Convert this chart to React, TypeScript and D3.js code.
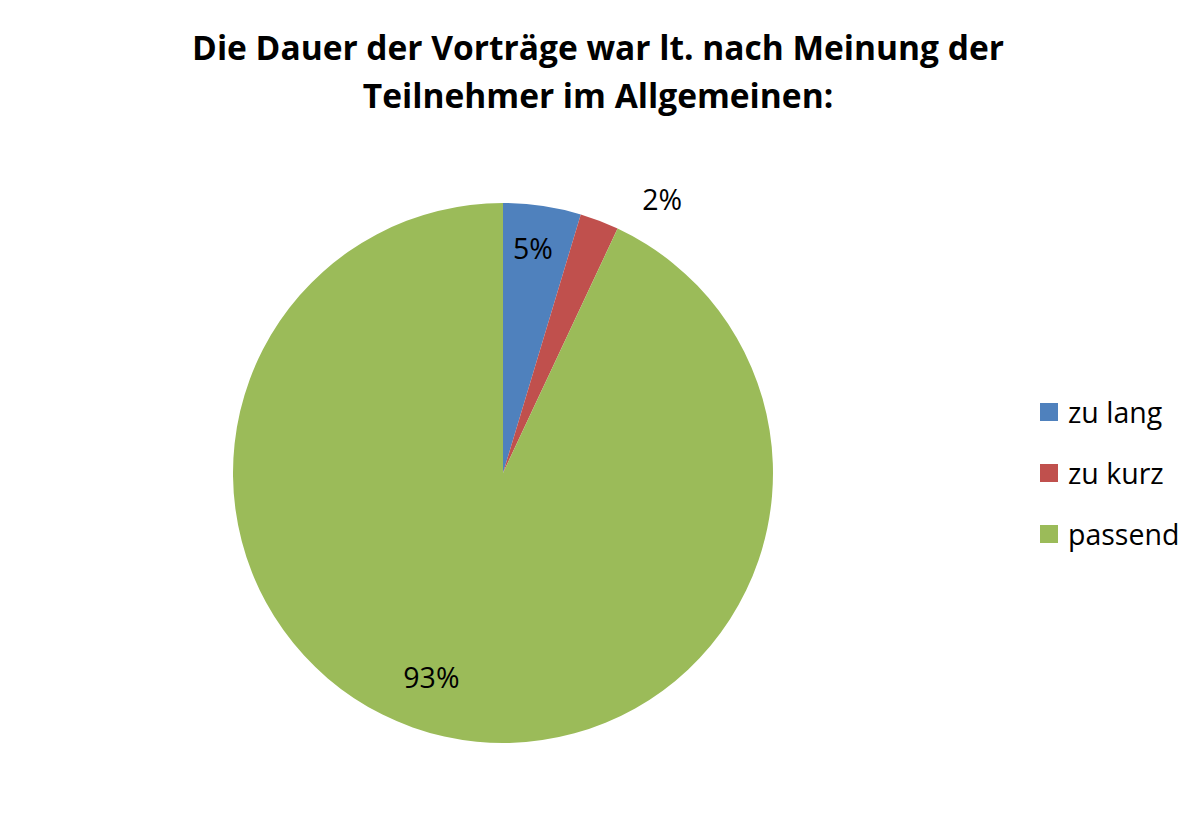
import * as d3 from 'd3';

const categories = ['zu lang', 'zu kurz', 'passend'];
const counts = [2, 1, 40];
const colors = ['#4F81BD', '#C0504D', '#9BBB59'];
const titleLines = ['Die Dauer der Vorträge war lt. nach Meinung der', 'Teilnehmer im Allgemeinen:'];

// label placement: radius factor and angular nudge (deg) per slice, like Excel's best fit
const labelPlace = [
  { r: 0.84, da: -0.8 },
  { r: 1.174, da: 9.2 },
  { r: 0.8, da: 6.8 },
];

export default function App() {
  const width = 1200;
  const height = 819;
  const cx = 503;
  const cy = 473;
  const radius = 270;
  const font = '"Open Sans", "Liberation Sans", sans-serif';

  const total = d3.sum(counts);
  const pie = d3.pie<number>().sort(null).value((d) => d)(counts);
  const arc = d3.arc<d3.PieArcDatum<number>>().innerRadius(0).outerRadius(radius);

  return (
    <svg width={width} height={height} style={{ display: 'block', position: 'absolute', left: 0, top: 0 }}>
      <rect width={width} height={height} fill="#fff" />
      {titleLines.map((t, i) => (
        <text
          key={t}
          x={598}
          y={47 + i * 48}
          textAnchor="middle"
          dominantBaseline="central"
          fontFamily={font}
          fontWeight={700}
          fontSize={33.5}
          fill="#000"
        >
          {t}
        </text>
      ))}
      <g transform={`translate(${cx},${cy})`}>
        {pie.map((p, i) => (
          <path key={categories[i]} d={arc(p) ?? undefined} fill={colors[i]} />
        ))}
        {pie.map((p, i) => {
          const mid = (p.startAngle + p.endAngle) / 2 + (labelPlace[i].da * Math.PI) / 180;
          const r = radius * labelPlace[i].r;
          return (
            <text
              key={`l-${i}`}
              x={Math.sin(mid) * r}
              y={-Math.cos(mid) * r}
              textAnchor="middle"
              dominantBaseline="central"
              fontFamily={font}
              fontSize={28.5}
              fill="#000"
            >
              {`${Math.round((counts[i] / total) * 100)}%`}
            </text>
          );
        })}
      </g>
      <g transform="translate(1040,412)">
        {categories.map((c, i) => (
          <g key={c} transform={`translate(0,${i * 61})`}>
            <rect x={0} y={-9} width={18} height={18} fill={colors[i]} />
            <text x={28} y={0} dominantBaseline="central" fontFamily={font} fontSize={28.5} fill="#000">
              {c}
            </text>
          </g>
        ))}
      </g>
    </svg>
  );
}
